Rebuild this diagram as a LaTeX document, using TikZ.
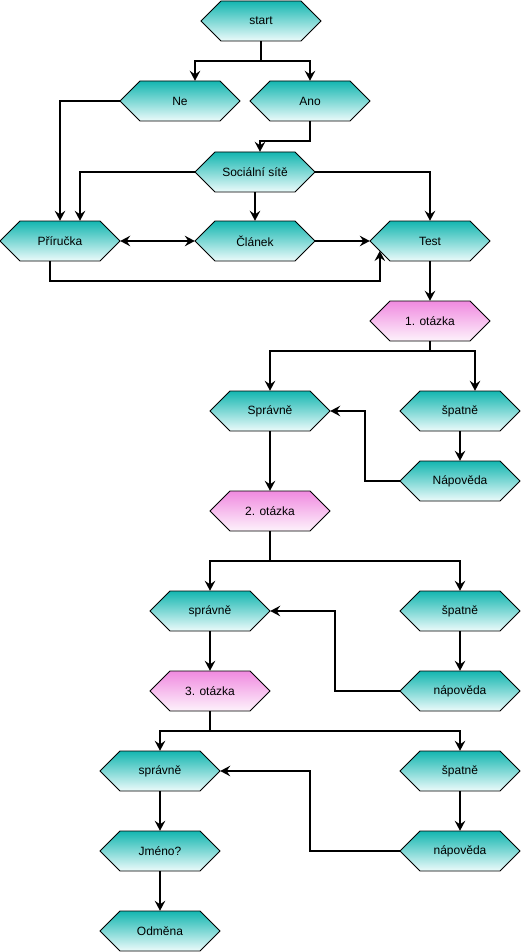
\documentclass[tikz,border=0pt]{standalone}
\usepackage{fontspec}
\setmainfont{Liberation Sans}
\usetikzlibrary{arrows.meta,calc}
\definecolor{tealtop}{RGB}{20,182,176}
\definecolor{tealbot}{RGB}{236,251,251}
\definecolor{pinktop}{RGB}{240,138,224}
\definecolor{pinkbot}{RGB}{253,242,251}
\tikzset{
  tealhex/.style={top color=tealtop,bottom color=tealbot,draw=black,line width=0.8pt},
  pinkhex/.style={top color=pinktop,bottom color=pinkbot,draw=black,line width=0.8pt},
  hexlabel/.style={minimum width=120pt,minimum height=40pt,inner sep=0pt,font=\fontsize{12}{14}\selectfont},
  tipstyle/.style={},
  arr/.style={line width=1.5pt,-{Stealth[length=10pt,width=10.5pt,inset=3.5pt]}},
  darr/.style={line width=1.5pt,{Stealth[length=10pt,width=10.5pt,inset=3.5pt]}-{Stealth[length=10pt,width=10.5pt,inset=3.5pt]}},
  ln/.style={line width=1.5pt}
}
\newcommand{\hexnode}[5]{%
  \shadedraw[#5] (#2-60,#3) -- (#2-40,#3-20) -- (#2+40,#3-20) -- (#2+60,#3) -- (#2+40,#3+20) -- (#2-40,#3+20) -- cycle;
  \node[hexlabel] (#1) at (#2,#3) {#4};}
\begin{document}
\begin{tikzpicture}[x=1pt,y=-1pt]
\useasboundingbox (0,0) rectangle (521,952);
\hexnode{start}{261}{21}{start}{tealhex}
\hexnode{ne}{180}{101}{Ne}{tealhex}
\hexnode{ano}{310}{101}{Ano}{tealhex}
\hexnode{soc}{255}{172}{Sociální sítě}{tealhex}
\hexnode{pri}{60}{241}{Příručka}{tealhex}
\hexnode{cla}{255}{241}{Článek}{tealhex}
\hexnode{test}{430}{241}{Test}{tealhex}
\hexnode{qa}{430}{321}{1. otázka}{pinkhex}
\hexnode{sa}{270}{411}{Správně}{tealhex}
\hexnode{wa}{460}{411}{špatně}{tealhex}
\hexnode{na}{460}{481}{Nápověda}{tealhex}
\hexnode{qb}{270}{511}{2. otázka}{pinkhex}
\hexnode{sb}{210}{611}{správně}{tealhex}
\hexnode{wb}{460}{611}{špatně}{tealhex}
\hexnode{nb}{460}{691}{nápověda}{tealhex}
\hexnode{qc}{210}{691}{3. otázka}{pinkhex}
\hexnode{sc}{160}{771}{správně}{tealhex}
\hexnode{wc}{460}{771}{špatně}{tealhex}
\hexnode{nc}{460}{851}{nápověda}{tealhex}
\hexnode{jm}{160}{851}{Jméno?}{tealhex}
\hexnode{od}{160}{931}{Odměna}{tealhex}
% connectors
\coordinate (j1) at ($(start.south)+(0,20)$);
\draw[ln] (start.south) -- (j1);
\draw[arr] (j1) -| ($(ne.north)+(15,0)$);
\draw[arr] (j1) -| (ano.north);
\draw[arr] (ne.west) -| (pri.north);
\draw[arr] (ano.south) -- ++(0,20) -| ($(soc.north)+(5,0)$);
\draw[arr] (soc.west) -| ($(pri.north)+(20,0)$);
\draw[arr] (soc.east) -| (test.north);
\draw[arr] (soc.south) -- (cla.north);
\draw[darr] (pri.east) -- (cla.west);
\draw[arr] (cla.east) -- (test.west);
\draw[arr] ($(pri.south)+(-10,0)$) -- ++(0,20) -| ($(test.west)+(10,10)$);
\draw[arr] (test.south) -- (qa.north);
\coordinate (k1) at ($(qa.south)+(0,10)$);
\draw[ln] (qa.south) -- (k1);
\draw[arr] (k1) -| (sa.north);
\draw[arr] (k1) -| ($(wa.north)+(15,0)$);
\draw[arr] (wa.south) -- (na.north);
\draw[arr] (na.west) -- ++(-35,0) |- (sa.east);
\draw[arr] (sa.south) -- (qb.north);
\coordinate (k2) at ($(qb.south)+(0,30)$);
\draw[ln] (qb.south) -- (k2);
\draw[arr] (k2) -| (sb.north);
\draw[arr] (k2) -| (wb.north);
\draw[arr] (wb.south) -- (nb.north);
\draw[arr] (nb.west) -- ++(-65,0) |- (sb.east);
\draw[arr] (sb.south) -- (qc.north);
\coordinate (k3) at ($(qc.south)+(0,20)$);
\draw[ln] (qc.south) -- (k3);
\draw[arr] (k3) -| (sc.north);
\draw[arr] (k3) -| (wc.north);
\draw[arr] (wc.south) -- (nc.north);
\draw[arr] (nc.west) -- ++(-90,0) |- (sc.east);
\draw[arr] (sc.south) -- (jm.north);
\draw[arr] (jm.south) -- (od.north);
\end{tikzpicture}
\end{document}
